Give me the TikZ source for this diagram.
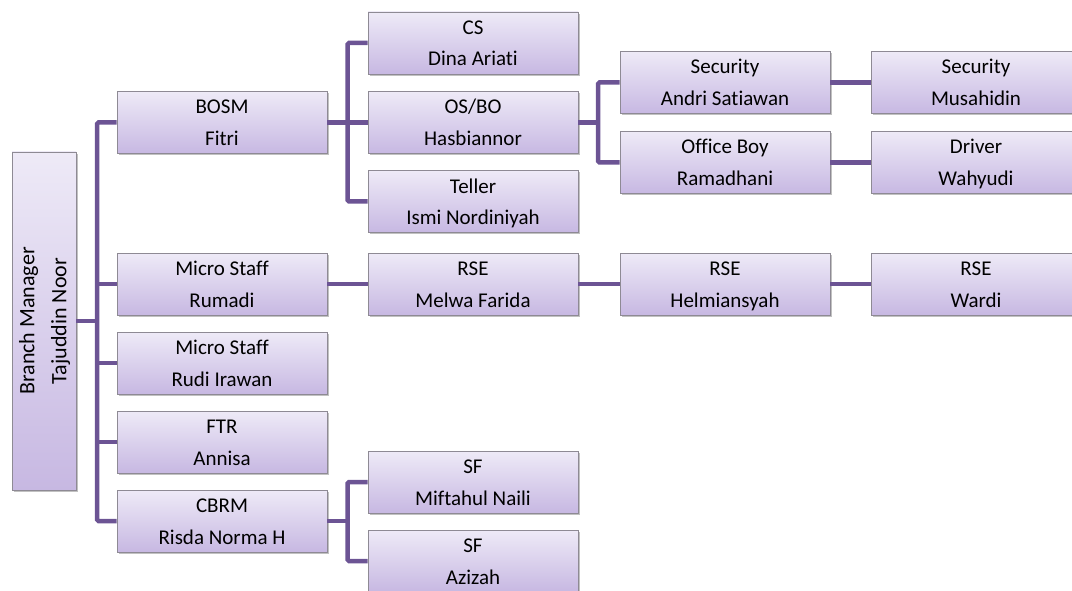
\documentclass[tikz,border=0pt]{standalone}
\usepackage{fontspec}
\setmainfont{Carlito}[RawFeature={-liga;-clig;-dlig;-calt}]
\usepackage{xcolor}
\usetikzlibrary{shadows, positioning, calc}

\definecolor{boxtop}{HTML}{EEEAF7}
\definecolor{boxbot}{HTML}{C7B8E2}
\definecolor{boxline}{HTML}{8E8A94}
\definecolor{linkcol}{HTML}{6C5494}

\tikzset{
  staff/.style={draw=boxline, line width=0.8pt, top color=boxtop, bottom color=boxbot,
    minimum width=210, minimum height=62, inner sep=0pt, align=center,
    font=\fontsize{21}{31.5}\selectfont, text height=52pt, text depth=6pt,
    drop shadow={shadow xshift=1.5pt, shadow yshift=-2pt, opacity=0.35, fill=black!70}},
  link/.style={draw=linkcol, line width=4.5pt, rounded corners=1.5pt}
}

\begin{document}
\begin{tikzpicture}[x=1pt,y=-1pt]
            \useasboundingbox (0,0) rectangle (1072,591);

            % head of branch
            \node[staff, minimum width=64, minimum height=338, text height=, text depth=,
                font=\fontsize{22}{32}\selectfont] (bm) at (44,321)
                {\rotatebox{90}{\begin{tabular}{@{}c@{}}Branch Manager\\Tajuddin Noor\end{tabular}}};

            % first level
            \node[staff] (bosm) at (222,122.5) {BOSM\\Fitri};
            \node[staff] (rumadi) at (222,284) {Micro Staff\\Rumadi};
            \node[staff] (rudi) at (222,363) {Micro Staff\\Rudi Irawan};
            \node[staff] (ftr) at (222,442) {FTR\\Annisa};
            \node[staff] (cbrm) at (222,521) {CBRM\\Risda Norma H};

            % second level
            \node[staff] (cs) at (473,43) {CS\\Dina Ariati};
            \node[staff] (osbo) at (473,122.5) {OS/BO\\Hasbiannor};
            \node[staff] (teller) at (473,201.5) {Teller\\Ismi Nordiniyah};
            \node[staff] (melwa) at (473,284) {RSE\\Melwa Farida};
            \node[staff] (sfa) at (473,482) {SF\\Miftahul Naili};
            \node[staff] (sfb) at (473,561) {SF\\Azizah};

            % third level
            \node[staff] (seca) at (725,82.5) {Security\\Andri Satiawan};
            \node[staff] (boy) at (725,162.5) {Office Boy\\Ramadhani};
            \node[staff] (helmi) at (725,284) {RSE\\Helmiansyah};

            % fourth level
            \node[staff] (secb) at (976,82.5) {Security\\Musahidin};
            \node[staff] (driver) at (976,162.5) {Driver\\Wahyudi};
            \node[staff] (wardi) at (976,284) {RSE\\Wardi};

            % bus lines
            \coordinate (bus0) at (97,0);
            \coordinate (bus1) at (347.5,0);
            \coordinate (bus2) at (598,0);

            \draw[link] (bosm.west) -- (bosm.west -| bus0) -- (cbrm.west -| bus0) -- (cbrm.west);
            \draw[link] (bm.east) -- (bm.east -| bus0);
            \foreach \n in {rumadi, rudi, ftr}
                \draw[link] (\n.west) -- (\n.west -| bus0);

            \draw[link] (cs.west) -- (cs.west -| bus1) -- (teller.west -| bus1) -- (teller.west);
            \draw[link] (bosm.east) -- (osbo.west);

            \draw[link] (seca.west) -- (seca.west -| bus2) -- (boy.west -| bus2) -- (boy.west);
            \draw[link] (osbo.east) -- (osbo.east -| bus2);
            \draw[link] (seca.east) -- (secb.west);
            \draw[link] (boy.east) -- (driver.west);

            \draw[link] (rumadi.east) -- (melwa.west);
            \draw[link] (melwa.east) -- (helmi.west);
            \draw[link] (helmi.east) -- (wardi.west);

            \draw[link] (sfa.west) -- (sfa.west -| bus1) -- (sfb.west -| bus1) -- (sfb.west);
            \draw[link] (cbrm.east) -- (cbrm.east -| bus1);
        \end{tikzpicture}
\end{document}
